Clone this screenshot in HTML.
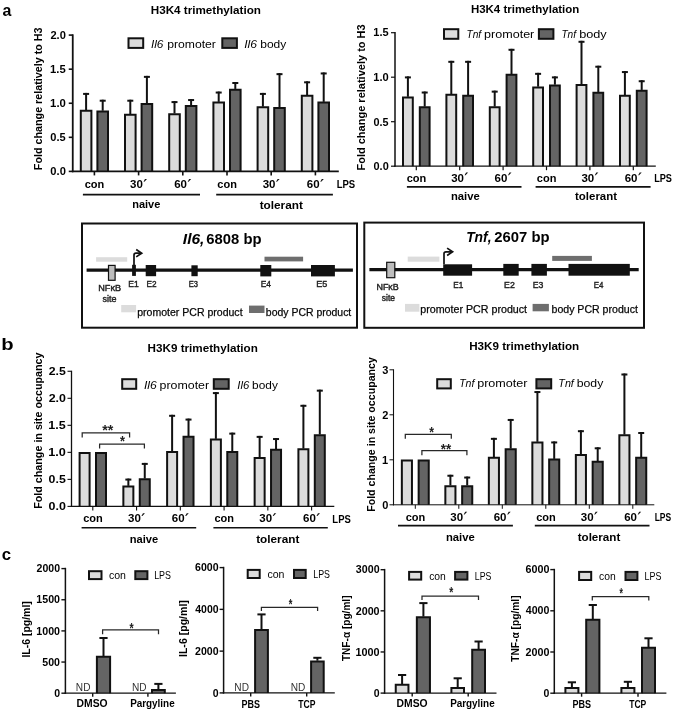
<!DOCTYPE html>
<html><head><meta charset="utf-8"><style>
html,body{margin:0;padding:0;background:#fff;}
svg{display:block;will-change:transform;filter:blur(0.3px);font-family:"Liberation Sans", sans-serif;}
</style></head><body>
<svg width="675" height="712" viewBox="0 0 675 712">
<rect width="675" height="712" fill="#fff"/>
<text x="2.52" y="15.50" font-size="17" font-weight="bold" textLength="8.88" lengthAdjust="spacingAndGlyphs">a</text>
<text x="1.39" y="350.40" font-size="17" font-weight="bold" textLength="12.34" lengthAdjust="spacingAndGlyphs">b</text>
<text x="1.63" y="560.20" font-size="17" font-weight="bold" textLength="9.36" lengthAdjust="spacingAndGlyphs">c</text>
<line x1="72.75" y1="34.30" x2="72.75" y2="172.20" stroke="#111" stroke-width="1.8"/>
<line x1="68.75" y1="171.40" x2="72.75" y2="171.40" stroke="#111" stroke-width="1.6"/>
<text x="50.35" y="175.24" font-size="11" font-weight="bold" textLength="15.49" lengthAdjust="spacingAndGlyphs">0.0</text>
<line x1="68.75" y1="137.32" x2="72.75" y2="137.32" stroke="#111" stroke-width="1.6"/>
<text x="50.36" y="141.16" font-size="11" font-weight="bold" textLength="15.35" lengthAdjust="spacingAndGlyphs">0.5</text>
<line x1="68.75" y1="103.25" x2="72.75" y2="103.25" stroke="#111" stroke-width="1.6"/>
<text x="50.09" y="107.09" font-size="11" font-weight="bold" textLength="15.76" lengthAdjust="spacingAndGlyphs">1.0</text>
<line x1="68.75" y1="69.17" x2="72.75" y2="69.17" stroke="#111" stroke-width="1.6"/>
<text x="50.10" y="72.96" font-size="11" font-weight="bold" textLength="15.61" lengthAdjust="spacingAndGlyphs">1.5</text>
<line x1="68.75" y1="35.10" x2="72.75" y2="35.10" stroke="#111" stroke-width="1.6"/>
<text x="50.41" y="38.94" font-size="11" font-weight="bold" textLength="15.43" lengthAdjust="spacingAndGlyphs">2.0</text>
<line x1="86.10" y1="110.06" x2="86.10" y2="92.91" stroke="#111" stroke-width="2"/>
<line x1="83.10" y1="93.91" x2="89.10" y2="93.91" stroke="#111" stroke-width="2"/>
<rect x="80.80" y="110.77" width="10.60" height="60.64" fill="#dcdcdc"/>
<path d="M80.80 171.40 V110.77 H91.40 V171.40" stroke="#111" stroke-width="2" fill="none"/>
<line x1="102.70" y1="110.75" x2="102.70" y2="99.72" stroke="#111" stroke-width="2"/>
<line x1="99.70" y1="100.72" x2="105.70" y2="100.72" stroke="#111" stroke-width="2"/>
<rect x="97.40" y="111.45" width="10.60" height="59.95" fill="#646464"/>
<path d="M97.40 171.40 V111.45 H108.00 V171.40" stroke="#111" stroke-width="2" fill="none"/>
<line x1="130.30" y1="114.15" x2="130.30" y2="99.72" stroke="#111" stroke-width="2"/>
<line x1="127.30" y1="100.72" x2="133.30" y2="100.72" stroke="#111" stroke-width="2"/>
<rect x="125.00" y="114.85" width="10.60" height="56.55" fill="#dcdcdc"/>
<path d="M125.00 171.40 V114.85 H135.60 V171.40" stroke="#111" stroke-width="2" fill="none"/>
<line x1="146.90" y1="103.25" x2="146.90" y2="75.87" stroke="#111" stroke-width="2"/>
<line x1="143.90" y1="76.87" x2="149.90" y2="76.87" stroke="#111" stroke-width="2"/>
<rect x="141.60" y="103.95" width="10.60" height="67.45" fill="#646464"/>
<path d="M141.60 171.40 V103.95 H152.20 V171.40" stroke="#111" stroke-width="2" fill="none"/>
<line x1="174.50" y1="113.47" x2="174.50" y2="101.09" stroke="#111" stroke-width="2"/>
<line x1="171.50" y1="102.09" x2="177.50" y2="102.09" stroke="#111" stroke-width="2"/>
<rect x="169.20" y="114.17" width="10.60" height="57.23" fill="#dcdcdc"/>
<path d="M169.20 171.40 V114.17 H179.80 V171.40" stroke="#111" stroke-width="2" fill="none"/>
<line x1="191.10" y1="105.29" x2="191.10" y2="99.04" stroke="#111" stroke-width="2"/>
<line x1="188.10" y1="100.04" x2="194.10" y2="100.04" stroke="#111" stroke-width="2"/>
<rect x="185.80" y="105.99" width="10.60" height="65.41" fill="#646464"/>
<path d="M185.80 171.40 V105.99 H196.40 V171.40" stroke="#111" stroke-width="2" fill="none"/>
<line x1="218.70" y1="101.89" x2="218.70" y2="91.55" stroke="#111" stroke-width="2"/>
<line x1="215.70" y1="92.55" x2="221.70" y2="92.55" stroke="#111" stroke-width="2"/>
<rect x="213.40" y="102.59" width="10.60" height="68.81" fill="#dcdcdc"/>
<path d="M213.40 171.40 V102.59 H224.00 V171.40" stroke="#111" stroke-width="2" fill="none"/>
<line x1="235.30" y1="88.94" x2="235.30" y2="82.00" stroke="#111" stroke-width="2"/>
<line x1="232.30" y1="83.00" x2="238.30" y2="83.00" stroke="#111" stroke-width="2"/>
<rect x="230.00" y="89.64" width="10.60" height="81.76" fill="#646464"/>
<path d="M230.00 171.40 V89.64 H240.60 V171.40" stroke="#111" stroke-width="2" fill="none"/>
<line x1="262.90" y1="106.66" x2="262.90" y2="92.91" stroke="#111" stroke-width="2"/>
<line x1="259.90" y1="93.91" x2="265.90" y2="93.91" stroke="#111" stroke-width="2"/>
<rect x="257.60" y="107.36" width="10.60" height="64.04" fill="#dcdcdc"/>
<path d="M257.60 171.40 V107.36 H268.20 V171.40" stroke="#111" stroke-width="2" fill="none"/>
<line x1="279.50" y1="107.34" x2="279.50" y2="73.15" stroke="#111" stroke-width="2"/>
<line x1="276.50" y1="74.15" x2="282.50" y2="74.15" stroke="#111" stroke-width="2"/>
<rect x="274.20" y="108.04" width="10.60" height="63.36" fill="#646464"/>
<path d="M274.20 171.40 V108.04 H284.80 V171.40" stroke="#111" stroke-width="2" fill="none"/>
<line x1="307.10" y1="95.07" x2="307.10" y2="81.32" stroke="#111" stroke-width="2"/>
<line x1="304.10" y1="82.32" x2="310.10" y2="82.32" stroke="#111" stroke-width="2"/>
<rect x="301.80" y="95.77" width="10.60" height="75.63" fill="#dcdcdc"/>
<path d="M301.80 171.40 V95.77 H312.40 V171.40" stroke="#111" stroke-width="2" fill="none"/>
<line x1="323.70" y1="101.89" x2="323.70" y2="72.46" stroke="#111" stroke-width="2"/>
<line x1="320.70" y1="73.46" x2="326.70" y2="73.46" stroke="#111" stroke-width="2"/>
<rect x="318.40" y="102.59" width="10.60" height="68.81" fill="#646464"/>
<path d="M318.40 171.40 V102.59 H329.00 V171.40" stroke="#111" stroke-width="2" fill="none"/>
<line x1="71.85" y1="171.40" x2="338.80" y2="171.40" stroke="#111" stroke-width="1.6"/>
<line x1="94.40" y1="171.40" x2="94.40" y2="175.40" stroke="#111" stroke-width="1.6"/>
<line x1="138.60" y1="171.40" x2="138.60" y2="175.40" stroke="#111" stroke-width="1.6"/>
<line x1="182.80" y1="171.40" x2="182.80" y2="175.40" stroke="#111" stroke-width="1.6"/>
<line x1="227.00" y1="171.40" x2="227.00" y2="175.40" stroke="#111" stroke-width="1.6"/>
<line x1="271.20" y1="171.40" x2="271.20" y2="175.40" stroke="#111" stroke-width="1.6"/>
<line x1="315.40" y1="171.40" x2="315.40" y2="175.40" stroke="#111" stroke-width="1.6"/>
<line x1="395.00" y1="32.10" x2="395.00" y2="166.80" stroke="#111" stroke-width="1.5"/>
<line x1="391.00" y1="166.20" x2="395.00" y2="166.20" stroke="#111" stroke-width="1.2"/>
<text x="373.56" y="170.04" font-size="11" font-weight="bold" textLength="15.18" lengthAdjust="spacingAndGlyphs">0.0</text>
<line x1="391.00" y1="121.70" x2="395.00" y2="121.70" stroke="#111" stroke-width="1.2"/>
<text x="373.57" y="125.54" font-size="11" font-weight="bold" textLength="15.03" lengthAdjust="spacingAndGlyphs">0.5</text>
<line x1="391.00" y1="77.20" x2="395.00" y2="77.20" stroke="#111" stroke-width="1.2"/>
<text x="373.31" y="81.04" font-size="11" font-weight="bold" textLength="15.44" lengthAdjust="spacingAndGlyphs">1.0</text>
<line x1="391.00" y1="32.70" x2="395.00" y2="32.70" stroke="#111" stroke-width="1.2"/>
<text x="373.31" y="36.48" font-size="11" font-weight="bold" textLength="15.29" lengthAdjust="spacingAndGlyphs">1.5</text>
<line x1="407.90" y1="96.78" x2="407.90" y2="76.40" stroke="#111" stroke-width="2"/>
<line x1="404.90" y1="77.40" x2="410.90" y2="77.40" stroke="#111" stroke-width="2"/>
<rect x="403.00" y="97.48" width="9.80" height="68.72" fill="#dcdcdc"/>
<path d="M403.00 166.20 V97.48 H412.80 V166.20" stroke="#111" stroke-width="2" fill="none"/>
<line x1="424.70" y1="106.57" x2="424.70" y2="91.53" stroke="#111" stroke-width="2"/>
<line x1="421.70" y1="92.53" x2="427.70" y2="92.53" stroke="#111" stroke-width="2"/>
<rect x="419.80" y="107.27" width="9.80" height="58.93" fill="#646464"/>
<path d="M419.80 166.20 V107.27 H429.60 V166.20" stroke="#111" stroke-width="2" fill="none"/>
<line x1="451.30" y1="94.11" x2="451.30" y2="60.82" stroke="#111" stroke-width="2"/>
<line x1="448.30" y1="61.82" x2="454.30" y2="61.82" stroke="#111" stroke-width="2"/>
<rect x="446.40" y="94.81" width="9.80" height="71.39" fill="#dcdcdc"/>
<path d="M446.40 166.20 V94.81 H456.20 V166.20" stroke="#111" stroke-width="2" fill="none"/>
<line x1="468.10" y1="95.00" x2="468.10" y2="60.82" stroke="#111" stroke-width="2"/>
<line x1="465.10" y1="61.82" x2="471.10" y2="61.82" stroke="#111" stroke-width="2"/>
<rect x="463.20" y="95.70" width="9.80" height="70.50" fill="#646464"/>
<path d="M463.20 166.20 V95.70 H473.00 V166.20" stroke="#111" stroke-width="2" fill="none"/>
<line x1="494.70" y1="106.57" x2="494.70" y2="90.64" stroke="#111" stroke-width="2"/>
<line x1="491.70" y1="91.64" x2="497.70" y2="91.64" stroke="#111" stroke-width="2"/>
<rect x="489.80" y="107.27" width="9.80" height="58.93" fill="#dcdcdc"/>
<path d="M489.80 166.20 V107.27 H499.60 V166.20" stroke="#111" stroke-width="2" fill="none"/>
<line x1="511.50" y1="74.00" x2="511.50" y2="48.81" stroke="#111" stroke-width="2"/>
<line x1="508.50" y1="49.81" x2="514.50" y2="49.81" stroke="#111" stroke-width="2"/>
<rect x="506.60" y="74.70" width="9.80" height="91.50" fill="#646464"/>
<path d="M506.60 166.20 V74.70 H516.40 V166.20" stroke="#111" stroke-width="2" fill="none"/>
<line x1="538.10" y1="86.72" x2="538.10" y2="72.84" stroke="#111" stroke-width="2"/>
<line x1="535.10" y1="73.84" x2="541.10" y2="73.84" stroke="#111" stroke-width="2"/>
<rect x="533.20" y="87.42" width="9.80" height="78.78" fill="#dcdcdc"/>
<path d="M533.20 166.20 V87.42 H543.00 V166.20" stroke="#111" stroke-width="2" fill="none"/>
<line x1="554.90" y1="84.68" x2="554.90" y2="76.40" stroke="#111" stroke-width="2"/>
<line x1="551.90" y1="77.40" x2="557.90" y2="77.40" stroke="#111" stroke-width="2"/>
<rect x="550.00" y="85.38" width="9.80" height="80.82" fill="#646464"/>
<path d="M550.00 166.20 V85.38 H559.80 V166.20" stroke="#111" stroke-width="2" fill="none"/>
<line x1="581.50" y1="84.32" x2="581.50" y2="40.80" stroke="#111" stroke-width="2"/>
<line x1="578.50" y1="41.80" x2="584.50" y2="41.80" stroke="#111" stroke-width="2"/>
<rect x="576.60" y="85.02" width="9.80" height="81.18" fill="#dcdcdc"/>
<path d="M576.60 166.20 V85.02 H586.40 V166.20" stroke="#111" stroke-width="2" fill="none"/>
<line x1="598.30" y1="91.97" x2="598.30" y2="65.72" stroke="#111" stroke-width="2"/>
<line x1="595.30" y1="66.72" x2="601.30" y2="66.72" stroke="#111" stroke-width="2"/>
<rect x="593.40" y="92.67" width="9.80" height="73.53" fill="#646464"/>
<path d="M593.40 166.20 V92.67 H603.20 V166.20" stroke="#111" stroke-width="2" fill="none"/>
<line x1="624.90" y1="95.00" x2="624.90" y2="71.06" stroke="#111" stroke-width="2"/>
<line x1="621.90" y1="72.06" x2="627.90" y2="72.06" stroke="#111" stroke-width="2"/>
<rect x="620.00" y="95.70" width="9.80" height="70.50" fill="#dcdcdc"/>
<path d="M620.00 166.20 V95.70 H629.80 V166.20" stroke="#111" stroke-width="2" fill="none"/>
<line x1="641.70" y1="89.93" x2="641.70" y2="80.23" stroke="#111" stroke-width="2"/>
<line x1="638.70" y1="81.23" x2="644.70" y2="81.23" stroke="#111" stroke-width="2"/>
<rect x="636.80" y="90.63" width="9.80" height="75.57" fill="#646464"/>
<path d="M636.80 166.20 V90.63 H646.60 V166.20" stroke="#111" stroke-width="2" fill="none"/>
<line x1="394.25" y1="166.20" x2="655.80" y2="166.20" stroke="#111" stroke-width="1.2"/>
<line x1="416.30" y1="166.20" x2="416.30" y2="170.20" stroke="#111" stroke-width="1.2"/>
<line x1="459.70" y1="166.20" x2="459.70" y2="170.20" stroke="#111" stroke-width="1.2"/>
<line x1="503.10" y1="166.20" x2="503.10" y2="170.20" stroke="#111" stroke-width="1.2"/>
<line x1="546.50" y1="166.20" x2="546.50" y2="170.20" stroke="#111" stroke-width="1.2"/>
<line x1="589.90" y1="166.20" x2="589.90" y2="170.20" stroke="#111" stroke-width="1.2"/>
<line x1="633.30" y1="166.20" x2="633.30" y2="170.20" stroke="#111" stroke-width="1.2"/>
<line x1="71.50" y1="370.72" x2="71.50" y2="506.95" stroke="#111" stroke-width="1.3"/>
<line x1="67.50" y1="506.40" x2="71.50" y2="506.40" stroke="#111" stroke-width="1.1"/>
<text x="48.60" y="510.24" font-size="11" font-weight="bold" textLength="17.30" lengthAdjust="spacingAndGlyphs">0.0</text>
<line x1="67.50" y1="479.38" x2="71.50" y2="479.38" stroke="#111" stroke-width="1.1"/>
<text x="48.61" y="483.21" font-size="11" font-weight="bold" textLength="17.13" lengthAdjust="spacingAndGlyphs">0.5</text>
<line x1="67.50" y1="452.35" x2="71.50" y2="452.35" stroke="#111" stroke-width="1.1"/>
<text x="48.31" y="456.19" font-size="11" font-weight="bold" textLength="17.60" lengthAdjust="spacingAndGlyphs">1.0</text>
<line x1="67.50" y1="425.32" x2="71.50" y2="425.32" stroke="#111" stroke-width="1.1"/>
<text x="48.32" y="429.11" font-size="11" font-weight="bold" textLength="17.43" lengthAdjust="spacingAndGlyphs">1.5</text>
<line x1="67.50" y1="398.30" x2="71.50" y2="398.30" stroke="#111" stroke-width="1.1"/>
<text x="48.67" y="402.14" font-size="11" font-weight="bold" textLength="17.23" lengthAdjust="spacingAndGlyphs">2.0</text>
<line x1="67.50" y1="371.27" x2="71.50" y2="371.27" stroke="#111" stroke-width="1.1"/>
<text x="48.67" y="375.11" font-size="11" font-weight="bold" textLength="17.07" lengthAdjust="spacingAndGlyphs">2.5</text>
<rect x="79.60" y="453.05" width="10.00" height="53.35" fill="#dcdcdc"/>
<path d="M79.60 506.40 V453.05 H89.60 V506.40" stroke="#111" stroke-width="2" fill="none"/>
<rect x="96.00" y="453.05" width="10.00" height="53.35" fill="#646464"/>
<path d="M96.00 506.40 V453.05 H106.00 V506.40" stroke="#111" stroke-width="2" fill="none"/>
<line x1="128.36" y1="485.86" x2="128.36" y2="478.57" stroke="#111" stroke-width="2"/>
<line x1="125.36" y1="479.57" x2="131.36" y2="479.57" stroke="#111" stroke-width="2"/>
<rect x="123.36" y="486.56" width="10.00" height="19.84" fill="#dcdcdc"/>
<path d="M123.36 506.40 V486.56 H133.36 V506.40" stroke="#111" stroke-width="2" fill="none"/>
<line x1="144.76" y1="478.56" x2="144.76" y2="462.90" stroke="#111" stroke-width="2"/>
<line x1="141.76" y1="463.90" x2="147.76" y2="463.90" stroke="#111" stroke-width="2"/>
<rect x="139.76" y="479.26" width="10.00" height="27.14" fill="#646464"/>
<path d="M139.76 506.40 V479.26 H149.76 V506.40" stroke="#111" stroke-width="2" fill="none"/>
<line x1="172.12" y1="451.27" x2="172.12" y2="414.80" stroke="#111" stroke-width="2"/>
<line x1="169.12" y1="415.80" x2="175.12" y2="415.80" stroke="#111" stroke-width="2"/>
<rect x="167.12" y="451.97" width="10.00" height="54.43" fill="#dcdcdc"/>
<path d="M167.12 506.40 V451.97 H177.12 V506.40" stroke="#111" stroke-width="2" fill="none"/>
<line x1="188.52" y1="436.13" x2="188.52" y2="418.58" stroke="#111" stroke-width="2"/>
<line x1="185.52" y1="419.58" x2="191.52" y2="419.58" stroke="#111" stroke-width="2"/>
<rect x="183.52" y="436.83" width="10.00" height="69.56" fill="#646464"/>
<path d="M183.52 506.40 V436.83 H193.52 V506.40" stroke="#111" stroke-width="2" fill="none"/>
<line x1="215.88" y1="438.84" x2="215.88" y2="392.09" stroke="#111" stroke-width="2"/>
<line x1="212.88" y1="393.09" x2="218.88" y2="393.09" stroke="#111" stroke-width="2"/>
<rect x="210.88" y="439.54" width="10.00" height="66.86" fill="#dcdcdc"/>
<path d="M210.88 506.40 V439.54 H220.88 V506.40" stroke="#111" stroke-width="2" fill="none"/>
<line x1="232.28" y1="451.27" x2="232.28" y2="432.63" stroke="#111" stroke-width="2"/>
<line x1="229.28" y1="433.63" x2="235.28" y2="433.63" stroke="#111" stroke-width="2"/>
<rect x="227.28" y="451.97" width="10.00" height="54.43" fill="#646464"/>
<path d="M227.28 506.40 V451.97 H237.28 V506.40" stroke="#111" stroke-width="2" fill="none"/>
<line x1="259.64" y1="457.21" x2="259.64" y2="435.88" stroke="#111" stroke-width="2"/>
<line x1="256.64" y1="436.88" x2="262.64" y2="436.88" stroke="#111" stroke-width="2"/>
<rect x="254.64" y="457.91" width="10.00" height="48.49" fill="#dcdcdc"/>
<path d="M254.64 506.40 V457.91 H264.64 V506.40" stroke="#111" stroke-width="2" fill="none"/>
<line x1="276.04" y1="449.11" x2="276.04" y2="438.04" stroke="#111" stroke-width="2"/>
<line x1="273.04" y1="439.04" x2="279.04" y2="439.04" stroke="#111" stroke-width="2"/>
<rect x="271.04" y="449.81" width="10.00" height="56.59" fill="#646464"/>
<path d="M271.04 506.40 V449.81 H281.04 V506.40" stroke="#111" stroke-width="2" fill="none"/>
<line x1="303.40" y1="448.57" x2="303.40" y2="404.80" stroke="#111" stroke-width="2"/>
<line x1="300.40" y1="405.80" x2="306.40" y2="405.80" stroke="#111" stroke-width="2"/>
<rect x="298.40" y="449.27" width="10.00" height="57.13" fill="#dcdcdc"/>
<path d="M298.40 506.40 V449.27 H308.40 V506.40" stroke="#111" stroke-width="2" fill="none"/>
<line x1="319.80" y1="434.51" x2="319.80" y2="389.66" stroke="#111" stroke-width="2"/>
<line x1="316.80" y1="390.66" x2="322.80" y2="390.66" stroke="#111" stroke-width="2"/>
<rect x="314.80" y="435.21" width="10.00" height="71.19" fill="#646464"/>
<path d="M314.80 506.40 V435.21 H324.80 V506.40" stroke="#111" stroke-width="2" fill="none"/>
<line x1="70.85" y1="506.40" x2="334.30" y2="506.40" stroke="#111" stroke-width="1.1"/>
<line x1="92.80" y1="506.40" x2="92.80" y2="510.40" stroke="#111" stroke-width="1.1"/>
<line x1="136.56" y1="506.40" x2="136.56" y2="510.40" stroke="#111" stroke-width="1.1"/>
<line x1="180.32" y1="506.40" x2="180.32" y2="510.40" stroke="#111" stroke-width="1.1"/>
<line x1="224.08" y1="506.40" x2="224.08" y2="510.40" stroke="#111" stroke-width="1.1"/>
<line x1="267.84" y1="506.40" x2="267.84" y2="510.40" stroke="#111" stroke-width="1.1"/>
<line x1="311.60" y1="506.40" x2="311.60" y2="510.40" stroke="#111" stroke-width="1.1"/>
<line x1="393.50" y1="369.30" x2="393.50" y2="505.30" stroke="#111" stroke-width="1.1"/>
<line x1="389.50" y1="504.80" x2="393.50" y2="504.80" stroke="#111" stroke-width="1.0"/>
<text x="382.23" y="508.64" font-size="11" font-weight="bold">0</text>
<line x1="389.50" y1="459.80" x2="393.50" y2="459.80" stroke="#111" stroke-width="1.0"/>
<text x="382.10" y="463.58" font-size="11" font-weight="bold">1</text>
<line x1="389.50" y1="414.80" x2="393.50" y2="414.80" stroke="#111" stroke-width="1.0"/>
<text x="382.21" y="418.64" font-size="11" font-weight="bold">2</text>
<line x1="389.50" y1="369.80" x2="393.50" y2="369.80" stroke="#111" stroke-width="1.0"/>
<text x="382.18" y="373.64" font-size="11" font-weight="bold">3</text>
<rect x="401.85" y="460.50" width="10.10" height="44.30" fill="#dcdcdc"/>
<path d="M401.85 504.80 V460.50 H411.95 V504.80" stroke="#111" stroke-width="2" fill="none"/>
<rect x="418.65" y="460.50" width="10.10" height="44.30" fill="#646464"/>
<path d="M418.65 504.80 V460.50 H428.75 V504.80" stroke="#111" stroke-width="2" fill="none"/>
<line x1="450.40" y1="485.45" x2="450.40" y2="474.75" stroke="#111" stroke-width="2"/>
<line x1="447.40" y1="475.75" x2="453.40" y2="475.75" stroke="#111" stroke-width="2"/>
<rect x="445.35" y="486.15" width="10.10" height="18.65" fill="#dcdcdc"/>
<path d="M445.35 504.80 V486.15 H455.45 V504.80" stroke="#111" stroke-width="2" fill="none"/>
<line x1="467.20" y1="485.45" x2="467.20" y2="476.55" stroke="#111" stroke-width="2"/>
<line x1="464.20" y1="477.55" x2="470.20" y2="477.55" stroke="#111" stroke-width="2"/>
<rect x="462.15" y="486.15" width="10.10" height="18.65" fill="#646464"/>
<path d="M462.15 504.80 V486.15 H472.25 V504.80" stroke="#111" stroke-width="2" fill="none"/>
<line x1="493.90" y1="457.10" x2="493.90" y2="437.85" stroke="#111" stroke-width="2"/>
<line x1="490.90" y1="438.85" x2="496.90" y2="438.85" stroke="#111" stroke-width="2"/>
<rect x="488.85" y="457.80" width="10.10" height="47.00" fill="#dcdcdc"/>
<path d="M488.85 504.80 V457.80 H498.95 V504.80" stroke="#111" stroke-width="2" fill="none"/>
<line x1="510.70" y1="448.55" x2="510.70" y2="418.95" stroke="#111" stroke-width="2"/>
<line x1="507.70" y1="419.95" x2="513.70" y2="419.95" stroke="#111" stroke-width="2"/>
<rect x="505.65" y="449.25" width="10.10" height="55.55" fill="#646464"/>
<path d="M505.65 504.80 V449.25 H515.75 V504.80" stroke="#111" stroke-width="2" fill="none"/>
<line x1="537.40" y1="441.80" x2="537.40" y2="391.05" stroke="#111" stroke-width="2"/>
<line x1="534.40" y1="392.05" x2="540.40" y2="392.05" stroke="#111" stroke-width="2"/>
<rect x="532.35" y="442.50" width="10.10" height="62.30" fill="#dcdcdc"/>
<path d="M532.35 504.80 V442.50 H542.45 V504.80" stroke="#111" stroke-width="2" fill="none"/>
<line x1="554.20" y1="458.90" x2="554.20" y2="441.45" stroke="#111" stroke-width="2"/>
<line x1="551.20" y1="442.45" x2="557.20" y2="442.45" stroke="#111" stroke-width="2"/>
<rect x="549.15" y="459.60" width="10.10" height="45.20" fill="#646464"/>
<path d="M549.15 504.80 V459.60 H559.25 V504.80" stroke="#111" stroke-width="2" fill="none"/>
<line x1="580.90" y1="454.40" x2="580.90" y2="430.20" stroke="#111" stroke-width="2"/>
<line x1="577.90" y1="431.20" x2="583.90" y2="431.20" stroke="#111" stroke-width="2"/>
<rect x="575.85" y="455.10" width="10.10" height="49.70" fill="#dcdcdc"/>
<path d="M575.85 504.80 V455.10 H585.95 V504.80" stroke="#111" stroke-width="2" fill="none"/>
<line x1="597.70" y1="461.15" x2="597.70" y2="447.30" stroke="#111" stroke-width="2"/>
<line x1="594.70" y1="448.30" x2="600.70" y2="448.30" stroke="#111" stroke-width="2"/>
<rect x="592.65" y="461.85" width="10.10" height="42.95" fill="#646464"/>
<path d="M592.65 504.80 V461.85 H602.75 V504.80" stroke="#111" stroke-width="2" fill="none"/>
<line x1="624.40" y1="434.60" x2="624.40" y2="373.50" stroke="#111" stroke-width="2"/>
<line x1="621.40" y1="374.50" x2="627.40" y2="374.50" stroke="#111" stroke-width="2"/>
<rect x="619.35" y="435.30" width="10.10" height="69.50" fill="#dcdcdc"/>
<path d="M619.35 504.80 V435.30 H629.45 V504.80" stroke="#111" stroke-width="2" fill="none"/>
<line x1="641.20" y1="457.10" x2="641.20" y2="432.00" stroke="#111" stroke-width="2"/>
<line x1="638.20" y1="433.00" x2="644.20" y2="433.00" stroke="#111" stroke-width="2"/>
<rect x="636.15" y="457.80" width="10.10" height="47.00" fill="#646464"/>
<path d="M636.15 504.80 V457.80 H646.25 V504.80" stroke="#111" stroke-width="2" fill="none"/>
<line x1="392.95" y1="504.80" x2="654.30" y2="504.80" stroke="#111" stroke-width="1.0"/>
<line x1="415.30" y1="504.80" x2="415.30" y2="508.80" stroke="#111" stroke-width="1.0"/>
<line x1="458.80" y1="504.80" x2="458.80" y2="508.80" stroke="#111" stroke-width="1.0"/>
<line x1="502.30" y1="504.80" x2="502.30" y2="508.80" stroke="#111" stroke-width="1.0"/>
<line x1="545.80" y1="504.80" x2="545.80" y2="508.80" stroke="#111" stroke-width="1.0"/>
<line x1="589.30" y1="504.80" x2="589.30" y2="508.80" stroke="#111" stroke-width="1.0"/>
<line x1="632.80" y1="504.80" x2="632.80" y2="508.80" stroke="#111" stroke-width="1.0"/>
<text x="84.73" y="188.20" font-size="11" font-weight="bold">con</text>
<text x="130.12" y="188.20" font-size="11.5" font-weight="bold">30</text>
<path d="M143.50 181.80 L145.00 179.10 L147.00 179.10 L144.40 181.80 Z" fill="#111"/>
<text x="174.23" y="188.20" font-size="11.5" font-weight="bold">60</text>
<path d="M187.70 181.80 L189.20 179.10 L191.20 179.10 L188.60 181.80 Z" fill="#111"/>
<text x="217.33" y="188.20" font-size="11" font-weight="bold">con</text>
<text x="262.72" y="188.20" font-size="11.5" font-weight="bold">30</text>
<path d="M276.10 181.80 L277.60 179.10 L279.60 179.10 L277.00 181.80 Z" fill="#111"/>
<text x="306.83" y="188.20" font-size="11.5" font-weight="bold">60</text>
<path d="M320.30 181.80 L321.80 179.10 L323.80 179.10 L321.20 181.80 Z" fill="#111"/>
<text x="336.66" y="187.90" font-size="11" font-weight="bold" textLength="18.52" lengthAdjust="spacingAndGlyphs">LPS</text>
<line x1="82.90" y1="194.60" x2="200.00" y2="194.60" stroke="#111" stroke-width="1.6"/>
<line x1="216.20" y1="194.60" x2="332.90" y2="194.60" stroke="#111" stroke-width="1.6"/>
<text x="132.18" y="208.40" font-size="11" font-weight="bold" textLength="28.20" lengthAdjust="spacingAndGlyphs">naive</text>
<text x="259.65" y="208.60" font-size="11" font-weight="bold" textLength="43.29" lengthAdjust="spacingAndGlyphs">tolerant</text>
<text x="406.63" y="181.60" font-size="11" font-weight="bold">con</text>
<text x="451.22" y="181.60" font-size="11.5" font-weight="bold">30</text>
<path d="M464.60 175.20 L466.10 172.50 L468.10 172.50 L465.50 175.20 Z" fill="#111"/>
<text x="494.53" y="181.60" font-size="11.5" font-weight="bold">60</text>
<path d="M508.00 175.20 L509.50 172.50 L511.50 172.50 L508.90 175.20 Z" fill="#111"/>
<text x="536.83" y="181.60" font-size="11" font-weight="bold">con</text>
<text x="581.42" y="181.60" font-size="11.5" font-weight="bold">30</text>
<path d="M594.80 175.20 L596.30 172.50 L598.30 172.50 L595.70 175.20 Z" fill="#111"/>
<text x="624.73" y="181.60" font-size="11.5" font-weight="bold">60</text>
<path d="M638.20 175.20 L639.70 172.50 L641.70 172.50 L639.10 175.20 Z" fill="#111"/>
<text x="654.18" y="182.20" font-size="11" font-weight="bold" textLength="17.78" lengthAdjust="spacingAndGlyphs">LPS</text>
<line x1="406.90" y1="186.90" x2="521.50" y2="186.90" stroke="#111" stroke-width="1.6"/>
<line x1="535.60" y1="186.90" x2="650.60" y2="186.90" stroke="#111" stroke-width="1.6"/>
<text x="450.97" y="200.30" font-size="11" font-weight="bold" textLength="28.82" lengthAdjust="spacingAndGlyphs">naive</text>
<text x="575.06" y="200.10" font-size="11" font-weight="bold" textLength="41.98" lengthAdjust="spacingAndGlyphs">tolerant</text>
<text x="83.13" y="522.30" font-size="11" font-weight="bold">con</text>
<text x="128.08" y="522.30" font-size="11.5" font-weight="bold">30</text>
<path d="M141.46 515.90 L142.96 513.20 L144.96 513.20 L142.36 515.90 Z" fill="#111"/>
<text x="171.75" y="522.30" font-size="11.5" font-weight="bold">60</text>
<path d="M185.22 515.90 L186.72 513.20 L188.72 513.20 L186.12 515.90 Z" fill="#111"/>
<text x="214.41" y="522.30" font-size="11" font-weight="bold">con</text>
<text x="259.36" y="522.30" font-size="11.5" font-weight="bold">30</text>
<path d="M272.74 515.90 L274.24 513.20 L276.24 513.20 L273.64 515.90 Z" fill="#111"/>
<text x="303.03" y="522.30" font-size="11.5" font-weight="bold">60</text>
<path d="M316.50 515.90 L318.00 513.20 L320.00 513.20 L317.40 515.90 Z" fill="#111"/>
<text x="332.36" y="522.50" font-size="11" font-weight="bold" textLength="18.42" lengthAdjust="spacingAndGlyphs">LPS</text>
<line x1="81.60" y1="527.80" x2="196.20" y2="527.80" stroke="#111" stroke-width="1.6"/>
<line x1="213.40" y1="527.80" x2="327.80" y2="527.80" stroke="#111" stroke-width="1.6"/>
<text x="129.68" y="543.10" font-size="11" font-weight="bold" textLength="28.51" lengthAdjust="spacingAndGlyphs">naive</text>
<text x="256.15" y="542.60" font-size="11" font-weight="bold" textLength="43.19" lengthAdjust="spacingAndGlyphs">tolerant</text>
<text x="405.63" y="520.80" font-size="11" font-weight="bold">con</text>
<text x="450.32" y="520.80" font-size="11.5" font-weight="bold">30</text>
<path d="M463.70 514.40 L465.20 511.70 L467.20 511.70 L464.60 514.40 Z" fill="#111"/>
<text x="493.73" y="520.80" font-size="11.5" font-weight="bold">60</text>
<path d="M507.20 514.40 L508.70 511.70 L510.70 511.70 L508.10 514.40 Z" fill="#111"/>
<text x="536.13" y="520.80" font-size="11" font-weight="bold">con</text>
<text x="580.82" y="520.80" font-size="11.5" font-weight="bold">30</text>
<path d="M594.20 514.40 L595.70 511.70 L597.70 511.70 L595.10 514.40 Z" fill="#111"/>
<text x="624.23" y="520.80" font-size="11.5" font-weight="bold">60</text>
<path d="M637.70 514.40 L639.20 511.70 L641.20 511.70 L638.60 514.40 Z" fill="#111"/>
<text x="654.63" y="520.80" font-size="11" font-weight="bold" textLength="16.51" lengthAdjust="spacingAndGlyphs">LPS</text>
<line x1="398.00" y1="525.60" x2="512.90" y2="525.60" stroke="#111" stroke-width="1.6"/>
<line x1="534.80" y1="525.60" x2="649.50" y2="525.60" stroke="#111" stroke-width="1.6"/>
<text x="445.97" y="540.80" font-size="11" font-weight="bold" textLength="28.82" lengthAdjust="spacingAndGlyphs">naive</text>
<text x="577.65" y="540.50" font-size="11" font-weight="bold" textLength="42.69" lengthAdjust="spacingAndGlyphs">tolerant</text>
<text x="150.71" y="14.30" font-size="10" font-weight="bold" textLength="110.31" lengthAdjust="spacingAndGlyphs">H3K4 trimethylation</text>
<text x="470.93" y="12.70" font-size="10" font-weight="bold" textLength="108.38" lengthAdjust="spacingAndGlyphs">H3K4 trimethylation</text>
<text x="147.61" y="351.70" font-size="10" font-weight="bold" textLength="110.21" lengthAdjust="spacingAndGlyphs">H3K9 trimethylation</text>
<text x="469.21" y="350.20" font-size="10" font-weight="bold" textLength="110.00" lengthAdjust="spacingAndGlyphs">H3K9 trimethylation</text>
<rect x="128.50" y="38.30" width="14.70" height="9.60" fill="#dcdcdc" stroke="#111" stroke-width="2"/>
<rect x="222.30" y="38.30" width="14.60" height="9.60" fill="#646464" stroke="#111" stroke-width="2"/>
<text x="150.93" y="47.50" font-size="10.5" font-style="italic" textLength="12.49" lengthAdjust="spacingAndGlyphs">Il6</text>
<text x="167.21" y="47.50" font-size="10.5" textLength="48.69" lengthAdjust="spacingAndGlyphs">promoter</text>
<text x="244.22" y="47.50" font-size="10.5" font-style="italic" textLength="12.80" lengthAdjust="spacingAndGlyphs">Il6</text>
<text x="260.22" y="47.50" font-size="10.5" textLength="26.02" lengthAdjust="spacingAndGlyphs">body</text>
<rect x="444.00" y="29.20" width="14.30" height="9.60" fill="#dcdcdc" stroke="#111" stroke-width="2"/>
<rect x="538.90" y="29.20" width="14.50" height="9.60" fill="#646464" stroke="#111" stroke-width="2"/>
<text x="466.48" y="38.00" font-size="10.5" font-style="italic" textLength="14.72" lengthAdjust="spacingAndGlyphs">Tnf</text>
<text x="484.08" y="38.00" font-size="10.5" textLength="50.22" lengthAdjust="spacingAndGlyphs">promoter</text>
<text x="561.39" y="38.00" font-size="10.5" font-style="italic" textLength="14.62" lengthAdjust="spacingAndGlyphs">Tnf</text>
<text x="579.17" y="38.00" font-size="10.5" textLength="27.57" lengthAdjust="spacingAndGlyphs">body</text>
<rect x="122.20" y="379.20" width="14.00" height="9.60" fill="#dcdcdc" stroke="#111" stroke-width="2"/>
<rect x="213.80" y="379.20" width="14.90" height="9.60" fill="#646464" stroke="#111" stroke-width="2"/>
<text x="143.92" y="389.00" font-size="10.5" font-style="italic" textLength="12.80" lengthAdjust="spacingAndGlyphs">Il6</text>
<text x="159.60" y="389.00" font-size="10.5" textLength="49.51" lengthAdjust="spacingAndGlyphs">promoter</text>
<text x="237.35" y="389.00" font-size="10.5" font-style="italic" textLength="11.97" lengthAdjust="spacingAndGlyphs">Il6</text>
<text x="252.13" y="389.00" font-size="10.5" textLength="25.71" lengthAdjust="spacingAndGlyphs">body</text>
<rect x="437.20" y="379.20" width="13.60" height="9.20" fill="#dcdcdc" stroke="#111" stroke-width="2"/>
<rect x="536.40" y="379.20" width="14.80" height="9.20" fill="#646464" stroke="#111" stroke-width="2"/>
<text x="459.15" y="387.00" font-size="10.5" font-style="italic" textLength="15.23" lengthAdjust="spacingAndGlyphs">Tnf</text>
<text x="477.18" y="387.00" font-size="10.5" textLength="50.33" lengthAdjust="spacingAndGlyphs">promoter</text>
<text x="558.33" y="387.00" font-size="10.5" font-style="italic" textLength="15.53" lengthAdjust="spacingAndGlyphs">Tnf</text>
<text x="576.70" y="387.00" font-size="10.5" textLength="26.64" lengthAdjust="spacingAndGlyphs">body</text>
<text x="42.23" y="170.12" font-size="10.8" font-weight="bold" textLength="142.62" lengthAdjust="spacingAndGlyphs" transform="rotate(-90 42.23 170.12)">Fold change relatively to H3</text>
<text x="365.43" y="170.54" font-size="10.8" font-weight="bold" textLength="146.25" lengthAdjust="spacingAndGlyphs" transform="rotate(-90 365.43 170.54)">Fold change relatively to H3</text>
<text x="41.63" y="508.82" font-size="10.8" font-weight="bold" textLength="156.30" lengthAdjust="spacingAndGlyphs" transform="rotate(-90 41.63 508.82)">Fold change in site occupancy</text>
<text x="374.93" y="511.82" font-size="10.8" font-weight="bold" textLength="154.69" lengthAdjust="spacingAndGlyphs" transform="rotate(-90 374.93 511.82)">Fold change in site occupancy</text>
<path d="M82.2 437.4 V432.9 H129.6 V437.4" stroke="#282828" stroke-width="1.25" fill="none"/>
<text x="102.16" y="435.23" font-size="14" font-weight="bold" textLength="11.15" lengthAdjust="spacingAndGlyphs" fill="#222">**</text>
<path d="M99.6 448.5 V444.0 H144.4 V448.5" stroke="#282828" stroke-width="1.25" fill="none"/>
<text x="119.97" y="446.32" font-size="14" font-weight="bold" textLength="4.95" lengthAdjust="spacingAndGlyphs" fill="#222">*</text>
<path d="M405.3 438.8 V434.3 H451.3 V438.8" stroke="#282828" stroke-width="1.25" fill="none"/>
<text x="429.17" y="437.23" font-size="14" font-weight="bold" textLength="4.75" lengthAdjust="spacingAndGlyphs" fill="#222">*</text>
<path d="M421.9 455.2 V450.7 H466.9 V455.2" stroke="#282828" stroke-width="1.25" fill="none"/>
<text x="440.87" y="454.12" font-size="14" font-weight="bold" textLength="10.45" lengthAdjust="spacingAndGlyphs" fill="#222">**</text>
<rect x="82.00" y="223.50" width="275.00" height="104.20" fill="none" stroke="#111" stroke-width="2"/>
<rect x="364.30" y="222.60" width="279.70" height="105.20" fill="none" stroke="#111" stroke-width="2"/>
<line x1="86.60" y1="270.20" x2="352.90" y2="270.20" stroke="#111" stroke-width="3.2"/>
<rect x="108.50" y="265.40" width="6.60" height="14.90" fill="#bdbdbd" stroke="#111" stroke-width="1.2"/>
<rect x="96.10" y="257.20" width="31.10" height="4.50" fill="#dcdcdc"/>
<rect x="264.50" y="256.70" width="38.60" height="4.70" fill="#6e6e6e"/>
<rect x="132.10" y="264.80" width="3.80" height="11.10" fill="#111"/>
<rect x="145.70" y="265.00" width="10.40" height="11.20" fill="#111"/>
<rect x="191.40" y="265.30" width="6.30" height="10.90" fill="#111"/>
<rect x="260.30" y="265.00" width="11.00" height="11.40" fill="#111"/>
<rect x="311.00" y="265.00" width="23.90" height="11.40" fill="#111"/>
<path d="M134.0 265.0 V255.2 Q134.0 253.2 136.0 253.2 H140.7" stroke="#111" stroke-width="1.7" fill="none"/>
<path d="M136.2 249.5 L141.7 253.2 L136.2 256.9" stroke="#111" stroke-width="1.7" fill="none"/>
<text x="128.30" y="287.40" font-size="8.5" stroke="#222" stroke-width="0.4" textLength="10.41" lengthAdjust="spacingAndGlyphs" fill="#222">E1</text>
<text x="146.53" y="287.40" font-size="8.5" stroke="#222" stroke-width="0.4" textLength="9.99" lengthAdjust="spacingAndGlyphs" fill="#222">E2</text>
<text x="188.78" y="287.40" font-size="8.5" stroke="#222" stroke-width="0.4" textLength="9.25" lengthAdjust="spacingAndGlyphs" fill="#222">E3</text>
<text x="260.71" y="287.40" font-size="8.5" stroke="#222" stroke-width="0.4" textLength="10.23" lengthAdjust="spacingAndGlyphs" fill="#222">E4</text>
<text x="316.36" y="287.40" font-size="8.5" stroke="#222" stroke-width="0.4" textLength="11.01" lengthAdjust="spacingAndGlyphs" fill="#222">E5</text>
<text x="98.25" y="290.60" font-size="8.5" stroke="#222" stroke-width="0.4" textLength="22.83" lengthAdjust="spacingAndGlyphs" fill="#222">NFκB</text>
<text x="102.55" y="301.70" font-size="8.5" stroke="#222" stroke-width="0.4" textLength="13.94" lengthAdjust="spacingAndGlyphs" fill="#222">site</text>
<rect x="121.20" y="305.00" width="14.90" height="7.30" fill="#dcdcdc"/>
<text x="137.22" y="316.00" font-size="10.5" stroke="#111" stroke-width="0.25" textLength="105.35" lengthAdjust="spacingAndGlyphs">promoter PCR product</text>
<rect x="249.00" y="305.60" width="15.50" height="7.40" fill="#6e6e6e"/>
<text x="265.82" y="315.60" font-size="10.5" stroke="#111" stroke-width="0.25" textLength="85.47" lengthAdjust="spacingAndGlyphs">body PCR product</text>
<text x="182.83" y="243.50" font-size="15" font-weight="bold" font-style="italic" textLength="21.59" lengthAdjust="spacingAndGlyphs">Il6,</text>
<text x="206.34" y="243.50" font-size="15" font-weight="bold" textLength="55.17" lengthAdjust="spacingAndGlyphs">6808 bp</text>
<line x1="369.40" y1="269.60" x2="638.70" y2="269.60" stroke="#111" stroke-width="3.2"/>
<rect x="386.70" y="262.30" width="8.10" height="15.40" fill="#bdbdbd" stroke="#111" stroke-width="1.2"/>
<rect x="407.70" y="256.60" width="31.70" height="5.10" fill="#dcdcdc"/>
<rect x="552.20" y="255.90" width="39.70" height="5.00" fill="#6e6e6e"/>
<rect x="443.20" y="264.30" width="28.90" height="11.40" fill="#111"/>
<rect x="503.30" y="263.90" width="15.40" height="11.80" fill="#111"/>
<rect x="531.40" y="263.90" width="15.50" height="11.80" fill="#111"/>
<rect x="568.50" y="263.90" width="61.30" height="11.80" fill="#111"/>
<path d="M444.0 264.3 V253.8 Q444.0 251.8 446.0 251.8 H451.6" stroke="#111" stroke-width="1.7" fill="none"/>
<path d="M447.1 248.1 L452.6 251.8 L447.1 255.5" stroke="#111" stroke-width="1.7" fill="none"/>
<text x="453.23" y="287.80" font-size="8.5" stroke="#222" stroke-width="0.4" textLength="9.96" lengthAdjust="spacingAndGlyphs" fill="#222">E1</text>
<text x="504.08" y="287.80" font-size="8.5" stroke="#222" stroke-width="0.4" textLength="10.66" lengthAdjust="spacingAndGlyphs" fill="#222">E2</text>
<text x="532.79" y="287.80" font-size="8.5" stroke="#222" stroke-width="0.4" textLength="10.59" lengthAdjust="spacingAndGlyphs" fill="#222">E3</text>
<text x="593.65" y="287.80" font-size="8.5" stroke="#222" stroke-width="0.4" textLength="9.68" lengthAdjust="spacingAndGlyphs" fill="#222">E4</text>
<text x="376.46" y="290.10" font-size="8.5" stroke="#222" stroke-width="0.4" textLength="22.30" lengthAdjust="spacingAndGlyphs" fill="#222">NFκB</text>
<text x="381.77" y="301.20" font-size="8.5" stroke="#222" stroke-width="0.4" textLength="13.20" lengthAdjust="spacingAndGlyphs" fill="#222">site</text>
<rect x="405.00" y="303.90" width="14.40" height="7.80" fill="#dcdcdc"/>
<text x="420.31" y="312.80" font-size="10.5" stroke="#111" stroke-width="0.25" textLength="106.76" lengthAdjust="spacingAndGlyphs">promoter PCR product</text>
<rect x="532.60" y="303.90" width="16.30" height="7.40" fill="#6e6e6e"/>
<text x="551.51" y="312.80" font-size="10.5" stroke="#111" stroke-width="0.25" textLength="86.38" lengthAdjust="spacingAndGlyphs">body PCR product</text>
<text x="466.13" y="241.60" font-size="15" font-weight="bold" font-style="italic" textLength="25.45" lengthAdjust="spacingAndGlyphs">Tnf,</text>
<text x="494.28" y="241.60" font-size="15" font-weight="bold" textLength="55.24" lengthAdjust="spacingAndGlyphs">2607 bp</text>
<line x1="65.40" y1="567.80" x2="65.40" y2="693.90" stroke="#111" stroke-width="1.5"/>
<line x1="61.40" y1="693.20" x2="65.40" y2="693.20" stroke="#111" stroke-width="1.4"/>
<text x="54.19" y="696.86" font-size="10.5" font-weight="bold">0</text>
<line x1="61.40" y1="662.05" x2="65.40" y2="662.05" stroke="#111" stroke-width="1.4"/>
<text x="42.33" y="665.71" font-size="10.5" font-weight="bold" textLength="17.70" lengthAdjust="spacingAndGlyphs">500</text>
<line x1="61.40" y1="630.90" x2="65.40" y2="630.90" stroke="#111" stroke-width="1.4"/>
<text x="36.33" y="634.56" font-size="10.5" font-weight="bold" textLength="23.72" lengthAdjust="spacingAndGlyphs">1000</text>
<line x1="61.40" y1="599.75" x2="65.40" y2="599.75" stroke="#111" stroke-width="1.4"/>
<text x="36.33" y="603.41" font-size="10.5" font-weight="bold" textLength="23.72" lengthAdjust="spacingAndGlyphs">1500</text>
<line x1="61.40" y1="568.60" x2="65.40" y2="568.60" stroke="#111" stroke-width="1.4"/>
<text x="36.63" y="572.26" font-size="10.5" font-weight="bold" textLength="23.41" lengthAdjust="spacingAndGlyphs">2000</text>
<text x="75.87" y="691.10" font-size="10.4" textLength="14.61" lengthAdjust="spacingAndGlyphs" fill="#333">ND</text>
<text x="132.07" y="691.10" font-size="10.4" textLength="14.61" lengthAdjust="spacingAndGlyphs" fill="#333">ND</text>
<rect x="96.90" y="656.80" width="13.20" height="36.40" fill="#646464"/>
<path d="M96.90 693.20 V656.80 H110.10 V693.20" stroke="#111" stroke-width="2" fill="none"/>
<line x1="103.50" y1="656.10" x2="103.50" y2="638.00" stroke="#111" stroke-width="2"/>
<line x1="99.40" y1="638.00" x2="107.60" y2="638.00" stroke="#111" stroke-width="2"/>
<rect x="152.00" y="690.00" width="12.80" height="3.20" fill="#646464"/>
<path d="M152.00 693.20 V690.00 H164.80 V693.20" stroke="#111" stroke-width="2" fill="none"/>
<line x1="158.40" y1="689.30" x2="158.40" y2="683.90" stroke="#111" stroke-width="2"/>
<line x1="154.30" y1="683.90" x2="162.50" y2="683.90" stroke="#111" stroke-width="2"/>
<line x1="64.65" y1="693.20" x2="175.90" y2="693.20" stroke="#111" stroke-width="1.3"/>
<line x1="92.70" y1="693.20" x2="92.70" y2="696.70" stroke="#111" stroke-width="1.4"/>
<line x1="147.90" y1="693.20" x2="147.90" y2="696.70" stroke="#111" stroke-width="1.4"/>
<text x="30.25" y="657.61" font-size="10.0" font-weight="bold" textLength="56.39" lengthAdjust="spacingAndGlyphs" transform="rotate(-90 30.25 657.61)">IL-6 [pg/ml]</text>
<text x="76.60" y="707.40" font-size="10.2" font-weight="bold" textLength="31.04" lengthAdjust="spacingAndGlyphs">DMSO</text>
<text x="130.13" y="707.40" font-size="10.2" font-weight="bold" textLength="44.51" lengthAdjust="spacingAndGlyphs">Pargyline</text>
<path d="M102.6 634.2 V629.9 H158.5 V634.2" stroke="#282828" stroke-width="1.25" fill="none"/>
<text x="129.57" y="632.92" font-size="14" font-weight="bold" textLength="4.14" lengthAdjust="spacingAndGlyphs" fill="#222">*</text>
<rect x="89.00" y="571.20" width="12.50" height="7.90" fill="#dcdcdc" stroke="#111" stroke-width="2"/>
<rect x="135.30" y="571.20" width="12.10" height="7.90" fill="#646464" stroke="#111" stroke-width="2"/>
<text x="108.95" y="578.50" font-size="10.5" textLength="17.03" lengthAdjust="spacingAndGlyphs">con</text>
<text x="154.17" y="578.50" font-size="10.5" textLength="16.84" lengthAdjust="spacingAndGlyphs">LPS</text>
<line x1="223.60" y1="566.80" x2="223.60" y2="693.60" stroke="#111" stroke-width="1.5"/>
<line x1="219.60" y1="692.90" x2="223.60" y2="692.90" stroke="#111" stroke-width="1.4"/>
<text x="212.69" y="696.56" font-size="10.5" font-weight="bold">0</text>
<line x1="219.60" y1="651.13" x2="223.60" y2="651.13" stroke="#111" stroke-width="1.4"/>
<text x="195.03" y="654.80" font-size="10.5" font-weight="bold" textLength="23.52" lengthAdjust="spacingAndGlyphs">2000</text>
<line x1="219.60" y1="609.37" x2="223.60" y2="609.37" stroke="#111" stroke-width="1.4"/>
<text x="195.24" y="613.03" font-size="10.5" font-weight="bold" textLength="23.30" lengthAdjust="spacingAndGlyphs">4000</text>
<line x1="219.60" y1="567.60" x2="223.60" y2="567.60" stroke="#111" stroke-width="1.4"/>
<text x="195.00" y="571.26" font-size="10.5" font-weight="bold" textLength="23.54" lengthAdjust="spacingAndGlyphs">6000</text>
<text x="234.37" y="690.80" font-size="10.4" textLength="14.61" lengthAdjust="spacingAndGlyphs" fill="#333">ND</text>
<text x="290.67" y="690.80" font-size="10.4" textLength="14.61" lengthAdjust="spacingAndGlyphs" fill="#333">ND</text>
<rect x="255.10" y="629.90" width="12.80" height="63.00" fill="#646464"/>
<path d="M255.10 692.90 V629.90 H267.90 V692.90" stroke="#111" stroke-width="2" fill="none"/>
<line x1="261.50" y1="629.20" x2="261.50" y2="614.40" stroke="#111" stroke-width="2"/>
<line x1="257.40" y1="614.40" x2="265.60" y2="614.40" stroke="#111" stroke-width="2"/>
<rect x="311.10" y="661.40" width="12.60" height="31.50" fill="#646464"/>
<path d="M311.10 692.90 V661.40 H323.70 V692.90" stroke="#111" stroke-width="2" fill="none"/>
<line x1="317.40" y1="660.70" x2="317.40" y2="657.80" stroke="#111" stroke-width="2"/>
<line x1="313.30" y1="657.80" x2="321.50" y2="657.80" stroke="#111" stroke-width="2"/>
<line x1="222.85" y1="692.90" x2="334.80" y2="692.90" stroke="#111" stroke-width="1.3"/>
<line x1="250.70" y1="692.90" x2="250.70" y2="696.40" stroke="#111" stroke-width="1.4"/>
<line x1="306.70" y1="692.90" x2="306.70" y2="696.40" stroke="#111" stroke-width="1.4"/>
<text x="186.95" y="657.01" font-size="10.0" font-weight="bold" textLength="56.90" lengthAdjust="spacingAndGlyphs" transform="rotate(-90 186.95 657.01)">IL-6 [pg/ml]</text>
<text x="241.49" y="707.60" font-size="10.2" font-weight="bold" textLength="18.45" lengthAdjust="spacingAndGlyphs">PBS</text>
<text x="298.31" y="707.60" font-size="10.2" font-weight="bold" textLength="17.19" lengthAdjust="spacingAndGlyphs">TCP</text>
<path d="M261.4 611.1 V607.4 H317.6 V611.1" stroke="#282828" stroke-width="1.25" fill="none"/>
<text x="288.68" y="609.12" font-size="14" font-weight="bold" textLength="3.64" lengthAdjust="spacingAndGlyphs" fill="#222">*</text>
<rect x="247.70" y="569.90" width="12.00" height="8.10" fill="#dcdcdc" stroke="#111" stroke-width="2"/>
<rect x="294.00" y="569.90" width="11.70" height="8.10" fill="#646464" stroke="#111" stroke-width="2"/>
<text x="267.45" y="578.00" font-size="10.5" textLength="17.03" lengthAdjust="spacingAndGlyphs">con</text>
<text x="313.27" y="578.00" font-size="10.5" textLength="16.73" lengthAdjust="spacingAndGlyphs">LPS</text>
<line x1="384.60" y1="568.90" x2="384.60" y2="693.80" stroke="#111" stroke-width="1.5"/>
<line x1="380.60" y1="693.10" x2="384.60" y2="693.10" stroke="#111" stroke-width="1.4"/>
<text x="373.69" y="696.76" font-size="10.5" font-weight="bold">0</text>
<line x1="380.60" y1="651.97" x2="384.60" y2="651.97" stroke="#111" stroke-width="1.4"/>
<text x="355.42" y="655.63" font-size="10.5" font-weight="bold" textLength="24.14" lengthAdjust="spacingAndGlyphs">1000</text>
<line x1="380.60" y1="610.83" x2="384.60" y2="610.83" stroke="#111" stroke-width="1.4"/>
<text x="355.73" y="614.50" font-size="10.5" font-weight="bold" textLength="23.83" lengthAdjust="spacingAndGlyphs">2000</text>
<line x1="380.60" y1="569.70" x2="384.60" y2="569.70" stroke="#111" stroke-width="1.4"/>
<text x="355.86" y="573.36" font-size="10.5" font-weight="bold" textLength="23.69" lengthAdjust="spacingAndGlyphs">3000</text>
<rect x="395.75" y="684.70" width="12.70" height="8.40" fill="#dcdcdc"/>
<path d="M395.75 693.10 V684.70 H408.45 V693.10" stroke="#111" stroke-width="2" fill="none"/>
<line x1="402.10" y1="684.00" x2="402.10" y2="675.00" stroke="#111" stroke-width="2"/>
<line x1="398.00" y1="675.00" x2="406.20" y2="675.00" stroke="#111" stroke-width="2"/>
<rect x="416.85" y="617.30" width="13.10" height="75.80" fill="#646464"/>
<path d="M416.85 693.10 V617.30 H429.95 V693.10" stroke="#111" stroke-width="2" fill="none"/>
<line x1="423.40" y1="616.60" x2="423.40" y2="603.10" stroke="#111" stroke-width="2"/>
<line x1="419.30" y1="603.10" x2="427.50" y2="603.10" stroke="#111" stroke-width="2"/>
<rect x="451.40" y="687.90" width="12.60" height="5.20" fill="#dcdcdc"/>
<path d="M451.40 693.10 V687.90 H464.00 V693.10" stroke="#111" stroke-width="2" fill="none"/>
<line x1="457.70" y1="687.20" x2="457.70" y2="678.30" stroke="#111" stroke-width="2"/>
<line x1="453.60" y1="678.30" x2="461.80" y2="678.30" stroke="#111" stroke-width="2"/>
<rect x="472.20" y="649.70" width="12.80" height="43.40" fill="#646464"/>
<path d="M472.20 693.10 V649.70 H485.00 V693.10" stroke="#111" stroke-width="2" fill="none"/>
<line x1="478.60" y1="649.00" x2="478.60" y2="641.50" stroke="#111" stroke-width="2"/>
<line x1="474.50" y1="641.50" x2="482.70" y2="641.50" stroke="#111" stroke-width="2"/>
<line x1="383.85" y1="693.10" x2="496.50" y2="693.10" stroke="#111" stroke-width="1.3"/>
<line x1="412.20" y1="693.10" x2="412.20" y2="696.60" stroke="#111" stroke-width="1.4"/>
<line x1="468.20" y1="693.10" x2="468.20" y2="696.60" stroke="#111" stroke-width="1.4"/>
<text x="349.65" y="661.10" font-size="10.0" font-weight="bold" textLength="65.65" lengthAdjust="spacingAndGlyphs" transform="rotate(-90 349.65 661.10)">TNF-α [pg/ml]</text>
<text x="396.60" y="707.40" font-size="10.2" font-weight="bold" textLength="31.04" lengthAdjust="spacingAndGlyphs">DMSO</text>
<text x="450.13" y="707.40" font-size="10.2" font-weight="bold" textLength="44.51" lengthAdjust="spacingAndGlyphs">Pargyline</text>
<path d="M422.0 600.1 V596.0 H478.5 V600.1" stroke="#282828" stroke-width="1.25" fill="none"/>
<text x="449.37" y="597.33" font-size="14" font-weight="bold" textLength="4.04" lengthAdjust="spacingAndGlyphs" fill="#222">*</text>
<rect x="409.10" y="571.90" width="12.10" height="7.70" fill="#dcdcdc" stroke="#111" stroke-width="2"/>
<rect x="455.10" y="571.90" width="12.30" height="7.70" fill="#646464" stroke="#111" stroke-width="2"/>
<text x="429.16" y="579.80" font-size="10.5" textLength="16.71" lengthAdjust="spacingAndGlyphs">con</text>
<text x="474.87" y="579.80" font-size="10.5" textLength="16.62" lengthAdjust="spacingAndGlyphs">LPS</text>
<line x1="554.30" y1="568.80" x2="554.30" y2="693.90" stroke="#111" stroke-width="1.5"/>
<line x1="550.30" y1="693.20" x2="554.30" y2="693.20" stroke="#111" stroke-width="1.4"/>
<text x="543.49" y="696.86" font-size="10.5" font-weight="bold">0</text>
<line x1="550.30" y1="652.00" x2="554.30" y2="652.00" stroke="#111" stroke-width="1.4"/>
<text x="525.53" y="655.66" font-size="10.5" font-weight="bold" textLength="23.83" lengthAdjust="spacingAndGlyphs">2000</text>
<line x1="550.30" y1="610.80" x2="554.30" y2="610.80" stroke="#111" stroke-width="1.4"/>
<text x="525.74" y="614.46" font-size="10.5" font-weight="bold" textLength="23.61" lengthAdjust="spacingAndGlyphs">4000</text>
<line x1="550.30" y1="569.60" x2="554.30" y2="569.60" stroke="#111" stroke-width="1.4"/>
<text x="525.50" y="573.26" font-size="10.5" font-weight="bold" textLength="23.85" lengthAdjust="spacingAndGlyphs">6000</text>
<rect x="565.40" y="688.10" width="13.00" height="5.10" fill="#dcdcdc"/>
<path d="M565.40 693.20 V688.10 H578.40 V693.20" stroke="#111" stroke-width="2" fill="none"/>
<line x1="571.90" y1="687.40" x2="571.90" y2="682.30" stroke="#111" stroke-width="2"/>
<line x1="567.80" y1="682.30" x2="576.00" y2="682.30" stroke="#111" stroke-width="2"/>
<rect x="586.20" y="619.70" width="13.20" height="73.50" fill="#646464"/>
<path d="M586.20 693.20 V619.70 H599.40 V693.20" stroke="#111" stroke-width="2" fill="none"/>
<line x1="592.80" y1="619.00" x2="592.80" y2="605.00" stroke="#111" stroke-width="2"/>
<line x1="588.70" y1="605.00" x2="596.90" y2="605.00" stroke="#111" stroke-width="2"/>
<rect x="621.40" y="688.10" width="13.00" height="5.10" fill="#dcdcdc"/>
<path d="M621.40 693.20 V688.10 H634.40 V693.20" stroke="#111" stroke-width="2" fill="none"/>
<line x1="627.90" y1="687.40" x2="627.90" y2="681.80" stroke="#111" stroke-width="2"/>
<line x1="623.80" y1="681.80" x2="632.00" y2="681.80" stroke="#111" stroke-width="2"/>
<rect x="642.00" y="647.70" width="13.00" height="45.50" fill="#646464"/>
<path d="M642.00 693.20 V647.70 H655.00 V693.20" stroke="#111" stroke-width="2" fill="none"/>
<line x1="648.50" y1="647.00" x2="648.50" y2="638.30" stroke="#111" stroke-width="2"/>
<line x1="644.40" y1="638.30" x2="652.60" y2="638.30" stroke="#111" stroke-width="2"/>
<line x1="553.55" y1="693.20" x2="666.40" y2="693.20" stroke="#111" stroke-width="1.3"/>
<line x1="581.60" y1="693.20" x2="581.60" y2="696.70" stroke="#111" stroke-width="1.4"/>
<line x1="638.00" y1="693.20" x2="638.00" y2="696.70" stroke="#111" stroke-width="1.4"/>
<text x="519.45" y="661.70" font-size="10.0" font-weight="bold" textLength="66.26" lengthAdjust="spacingAndGlyphs" transform="rotate(-90 519.45 661.70)">TNF-α [pg/ml]</text>
<text x="572.39" y="707.90" font-size="10.2" font-weight="bold" textLength="18.56" lengthAdjust="spacingAndGlyphs">PBS</text>
<text x="629.21" y="707.90" font-size="10.2" font-weight="bold" textLength="17.08" lengthAdjust="spacingAndGlyphs">TCP</text>
<path d="M592.3 600.4 V596.7 H648.8 V600.4" stroke="#282828" stroke-width="1.25" fill="none"/>
<text x="619.58" y="597.62" font-size="14" font-weight="bold" textLength="3.44" lengthAdjust="spacingAndGlyphs" fill="#222">*</text>
<rect x="579.10" y="571.90" width="12.10" height="8.10" fill="#dcdcdc" stroke="#111" stroke-width="2"/>
<rect x="625.50" y="571.90" width="11.90" height="8.10" fill="#646464" stroke="#111" stroke-width="2"/>
<text x="598.96" y="579.80" font-size="10.5" textLength="16.71" lengthAdjust="spacingAndGlyphs">con</text>
<text x="644.56" y="579.80" font-size="10.5" textLength="16.94" lengthAdjust="spacingAndGlyphs">LPS</text>
</svg></body></html>
